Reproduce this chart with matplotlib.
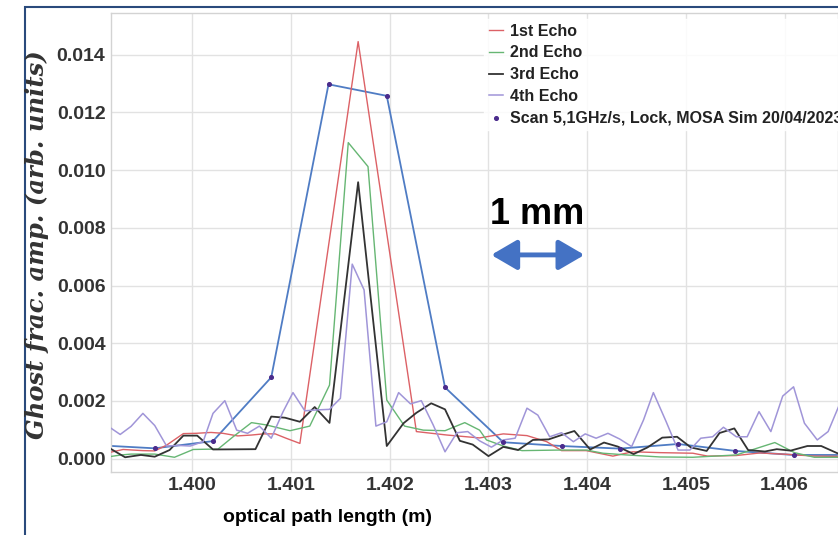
import matplotlib
matplotlib.use("Agg")
import matplotlib.pyplot as plt
from matplotlib.patches import Rectangle, FancyArrowPatch

plt.rcParams['font.family'] = ['Liberation Sans', 'DejaVu Sans']

# --- data ---
echo1_x = [1.39918, 1.39930, 1.39950, 1.39962, 1.39974, 1.39991, 1.40004, 1.40019, 1.40031,
           1.40046, 1.40060, 1.40072, 1.40084, 1.40095, 1.40109, 1.40168, 1.40227, 1.40258,
           1.40291, 1.40315, 1.40339, 1.40359, 1.40374, 1.40399, 1.40426, 1.40446, 1.40474,
           1.40507, 1.40522, 1.40551, 1.40575, 1.40603, 1.40630, 1.40656]
echo1_y = [0.00023, 0.00032, 0.00028, 0.00027, 0.00047, 0.00087, 0.00088, 0.00091, 0.00088,
           0.00079, 0.00082, 0.00086, 0.00086, 0.00071, 0.00053, 0.01445, 0.00094, 0.00082,
           0.00072, 0.00086, 0.00080, 0.00059, 0.00028, 0.00028, 0.00009, 0.00024, 0.00021,
           0.00019, 0.00009, 0.00011, 0.00020, 0.00015, 0.00009, 0.00008]

echo2_x = [1.39918, 1.39928, 1.39938, 1.39962, 1.39982, 1.40001, 1.40016, 1.40026, 1.40041,
           1.40060, 1.40075, 1.40099, 1.40119, 1.40139, 1.40158, 1.40178, 1.40197, 1.40215,
           1.40234, 1.40256, 1.40276, 1.40291, 1.40298, 1.40315, 1.40334, 1.40372, 1.40399,
           1.40416, 1.40440, 1.40474, 1.40507, 1.40551, 1.40569, 1.40590, 1.40610, 1.40630,
           1.40656]
echo2_y = [0.00008, 0.00013, 0.00016, 0.00016, 0.00005, 0.00032, 0.00033, 0.00033, 0.00075,
           0.00125, 0.00117, 0.00097, 0.00113, 0.00255, 0.01095, 0.01012, 0.00203, 0.00113,
           0.00099, 0.00097, 0.00125, 0.00099, 0.00065, 0.00044, 0.00028, 0.00030, 0.00030,
           0.00019, 0.00013, 0.00006, 0.00005, 0.00013, 0.00033, 0.00056, 0.00021, 0.00005,
           0.00005]

echo3_x = [1.39918, 1.39932, 1.39948, 1.39962, 1.39977, 1.39991, 1.40005, 1.40021, 1.40064,
           1.40080, 1.40094, 1.40109, 1.40124, 1.40139, 1.40168, 1.40197, 1.40214, 1.40227,
           1.40242, 1.40256, 1.40271, 1.40284, 1.40300, 1.40315, 1.40330, 1.40345, 1.40361,
           1.40374, 1.40387, 1.40403, 1.40417, 1.40431, 1.40447, 1.40461, 1.40476, 1.40491,
           1.40505, 1.40521, 1.40534, 1.40549, 1.40563, 1.40580, 1.40592, 1.40606, 1.40623,
           1.40637, 1.40656]
echo3_y = [0.00033, 0.00005, 0.00013, 0.00007, 0.00030, 0.00080, 0.00080, 0.00032, 0.00033,
           0.00146, 0.00142, 0.00128, 0.00179, 0.00124, 0.00958, 0.00044, 0.00123, 0.00159,
           0.00192, 0.00171, 0.00062, 0.00049, 0.00009, 0.00041, 0.00030, 0.00065, 0.00067,
           0.00082, 0.00096, 0.00032, 0.00056, 0.00042, 0.00016, 0.00039, 0.00073, 0.00076,
           0.00039, 0.00027, 0.00089, 0.00105, 0.00030, 0.00025, 0.00033, 0.00028, 0.00044,
           0.00044, 0.00015]

echo4_x = [1.39918, 1.39927, 1.39938, 1.39950, 1.39962, 1.39974, 1.39986, 1.39998, 1.40011,
           1.40021, 1.40033, 1.40045, 1.40056, 1.40068, 1.40080, 1.40092, 1.40102, 1.40114,
           1.40126, 1.40139, 1.40150, 1.40162, 1.40174, 1.40186, 1.40197, 1.40209, 1.40221,
           1.40232, 1.40244, 1.40256, 1.40268, 1.40279, 1.40291, 1.40303, 1.40315, 1.40327,
           1.40339, 1.40350, 1.40362, 1.40374, 1.40386, 1.40398, 1.40409, 1.40421, 1.40433,
           1.40445, 1.40457, 1.40467, 1.40480, 1.40492, 1.40504, 1.40515, 1.40527, 1.40538,
           1.40551, 1.40562, 1.40574, 1.40586, 1.40598, 1.40609, 1.40620, 1.40633, 1.40644,
           1.40656]
echo4_y = [0.00105, 0.00084, 0.00112, 0.00157, 0.00115, 0.00044, 0.00046, 0.00044, 0.00059,
           0.00157, 0.00201, 0.00099, 0.00088, 0.00113, 0.00071, 0.00163, 0.00229, 0.00166,
           0.00169, 0.00171, 0.00209, 0.00674, 0.00585, 0.00113, 0.00128, 0.00229, 0.00190,
           0.00201, 0.00117, 0.00024, 0.00090, 0.00094, 0.00062, 0.00040, 0.00065, 0.00071,
           0.00175, 0.00151, 0.00076, 0.00090, 0.00059, 0.00086, 0.00071, 0.00088, 0.00068,
           0.00042, 0.00134, 0.00229, 0.00128, 0.00030, 0.00030, 0.00071, 0.00076, 0.00109,
           0.00076, 0.00076, 0.00163, 0.00094, 0.00217, 0.00249, 0.00123, 0.00065, 0.00094,
           0.00192]

scan_x = [1.39903, 1.39962, 1.40021, 1.40080, 1.40138, 1.40197, 1.40256, 1.40315, 1.40374,
          1.40433, 1.40492, 1.40550, 1.40609, 1.40668]
scan_y = [0.00047, 0.00036, 0.00061, 0.00282, 0.01297, 0.01257, 0.00247, 0.00057, 0.00044,
          0.00035, 0.00051, 0.00027, 0.00013, 0.00013]

x_ticks = [1.400, 1.401, 1.402, 1.403, 1.404, 1.405, 1.406]
y_ticks = [0.000, 0.002, 0.004, 0.006, 0.008, 0.010, 0.012, 0.014]

W, H = 838, 535
fig = plt.figure(figsize=(W / 100, H / 100), dpi=100)
fig.patch.set_facecolor('white')

ax = fig.add_axes([111 / W, (H - 471.7) / H, (W - 111) / W, (471.7 - 13.3) / H])
ax.set_xlim(1.399177, 1.40654)
ax.set_ylim(-0.00045, 0.01543)
ax.set_axisbelow(True)
ax.grid(True, color='#e2e2e2', linewidth=1.0)
for sp in ax.spines.values():
    sp.set_color('#d3d3d3')
    sp.set_linewidth(1.0)

# scan line first, echoes on top
ax.plot(scan_x, scan_y, color='#4f7cc4', linewidth=1.3, zorder=2)
ax.plot(echo1_x, echo1_y, color='#dc6166', linewidth=1.0, label='1st Echo', zorder=3)
ax.plot(echo2_x, echo2_y, color='#66b673', linewidth=1.0, label='2nd Echo', zorder=3)
ax.plot(echo3_x, echo3_y, color='#333333', linewidth=1.3, label='3rd Echo', zorder=3)
ax.plot(echo4_x, echo4_y, color='#a095d8', linewidth=1.1, label='4th Echo', zorder=3)
ax.scatter(scan_x, scan_y, s=7, color='#4b2c8c', zorder=4,
           label='Scan 5,1GHz/s, Lock, MOSA Sim 20/04/2023')

ax.set_xticks(x_ticks)
ax.set_xticklabels([f'{v:.3f}' for v in x_ticks])
ax.set_yticks(y_ticks)
ax.set_yticklabels([f'{v:.3f}' for v in y_ticks])
ax.tick_params(length=0, pad=4, labelsize=14, labelcolor='#333333')
for lab in ax.get_xticklabels() + ax.get_yticklabels():
    lab.set_fontweight('bold')

# legend runs off the right edge like in the reference slide
leg = ax.legend(loc='upper left', bbox_to_anchor=(476 / W, 1 - 11 / H),
                bbox_transform=fig.transFigure, frameon=True, fancybox=False,
                framealpha=0.85, edgecolor='white', handlelength=0.9,
                handletextpad=0.45, labelspacing=0.42, borderpad=0.3,
                prop={'weight': 'bold', 'size': 11.5})
for t in leg.get_texts():
    t.set_color('#222222')

# scale marker
ax.text(1.40349, 0.00845, '1 mm', fontsize=26, fontweight='bold', ha='center', va='center')
arrow = FancyArrowPatch((1.40300, 0.00706), (1.40400, 0.00706),
                        arrowstyle='<|-|>,head_length=1.2,head_width=0.7',
                        mutation_scale=13, color='#4472c4', linewidth=3.5, zorder=5)
ax.add_patch(arrow)

fig.text(327 / W, 1 - 518 / H, 'optical path length (m)', fontsize=14,
         fontweight='bold', ha='center', va='center')
fig.text(37 / W, 1 - 245 / H, 'Ghost frac. amp. (arb. units)', rotation=90,
         family='DejaVu Serif', style='italic', fontweight='bold', fontsize=17.5,
         ha='center', va='center', color='#333333')

# dark outer frame of the slide
fig.patches.append(Rectangle((25 / W, -0.1), 1.2, 1.1 - 7 / H, transform=fig.transFigure,
                             fill=False, edgecolor='#2a4a7c', linewidth=1.5))

fig.savefig('out.png', dpi=100)
